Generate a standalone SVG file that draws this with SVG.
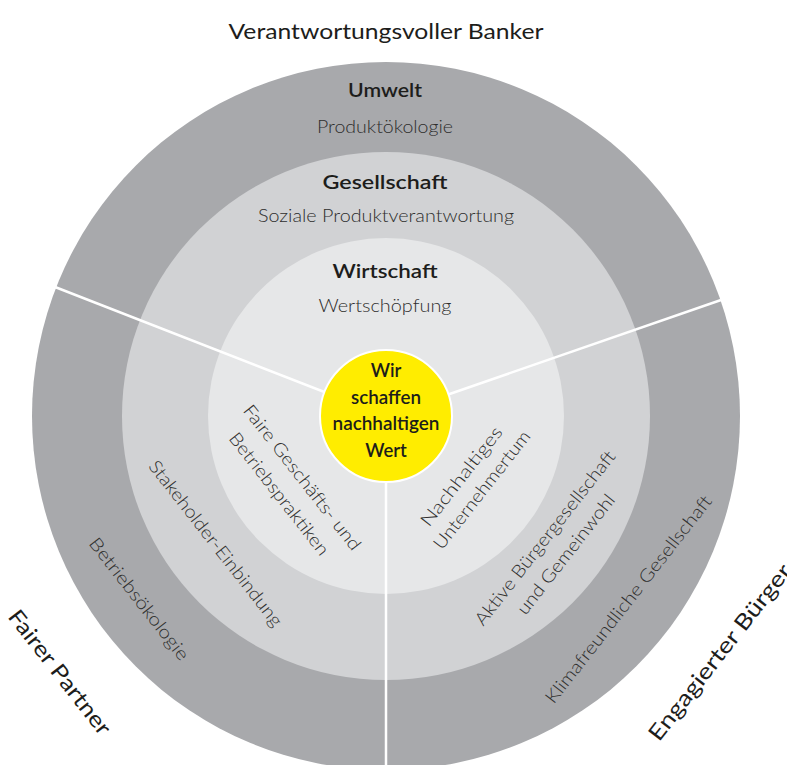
<svg xmlns="http://www.w3.org/2000/svg" width="787" height="765" viewBox="0 0 787 765">
<style>
.lt{font-family:Lato,"Liberation Sans",sans-serif;font-weight:300;fill:#2e2e2d;text-anchor:middle}
.bd{font-family:Lato,"Liberation Sans",sans-serif;font-weight:700;fill:#1d1d1b;text-anchor:middle}
.sep{stroke:#ffffff;stroke-width:2.5;fill:none}
</style>
<rect width="787" height="765" fill="#ffffff"/>
<g id="ring-umwelt">
<circle cx="386" cy="416" r="354" fill="#a8a9ac"/>
</g>
<g id="ring-gesellschaft">
<circle cx="386" cy="416" r="264" fill="#d1d2d4"/>
</g>
<g id="ring-wirtschaft">
<circle cx="386" cy="416" r="178" fill="#e6e7e8"/>
</g>
<g id="connectors">
<line class="sep" x1="386" y1="416" x2="55" y2="287"/>
<line class="sep" x1="386" y1="416" x2="721" y2="300"/>
<line class="sep" x1="386" y1="416" x2="386" y2="765"/>
</g>
<g id="center">
<circle cx="386" cy="416" r="66" fill="#ffed00" stroke="#ffffff" stroke-width="2"/>
<text class="bd" font-size="18.5" x="386" y="377" style="font-weight:600">Wir</text>
<text class="bd" font-size="18.5" x="386" y="404" textLength="70" lengthAdjust="spacingAndGlyphs" style="font-weight:600">schaffen</text>
<text class="bd" font-size="18.5" x="386" y="430" textLength="107" lengthAdjust="spacingAndGlyphs" style="font-weight:600">nachhaltigen</text>
<text class="bd" font-size="18.5" x="386" y="457" style="font-weight:600">Wert</text>
</g>
<g id="title-top">
<text class="lt" font-size="22" x="386" y="39" textLength="315" lengthAdjust="spacingAndGlyphs" style="fill:#1d1d1b;font-weight:400">Verantwortungsvoller Banker</text>
</g>
<g id="label-umwelt">
<text class="bd" font-size="19" x="385" y="97" textLength="74" lengthAdjust="spacingAndGlyphs" style="font-weight:600">Umwelt</text>
<text class="lt" font-size="18" x="385" y="133" textLength="136" lengthAdjust="spacingAndGlyphs">Produktökologie</text>
</g>
<g id="label-gesellschaft">
<text class="bd" font-size="19" x="385" y="189" textLength="125" lengthAdjust="spacingAndGlyphs" style="font-weight:600">Gesellschaft</text>
<text class="lt" font-size="18" x="386" y="222" textLength="256" lengthAdjust="spacingAndGlyphs">Soziale Produktverantwortung</text>
</g>
<g id="label-wirtschaft">
<text class="bd" font-size="19" x="385" y="278" textLength="105" lengthAdjust="spacingAndGlyphs" style="font-weight:600">Wirtschaft</text>
<text class="lt" font-size="18" x="385" y="312" textLength="133" lengthAdjust="spacingAndGlyphs">Wertschöpfung</text>
</g>
<g id="sector-fairer-partner">
<g transform="translate(302,477.5) rotate(52)"><text class="lt" font-size="18" x="0" y="6" textLength="179" lengthAdjust="spacingAndGlyphs">Faire Geschäfts- und</text></g>
<g transform="translate(279,494) rotate(52)"><text class="lt" font-size="18" x="0" y="6" textLength="150" lengthAdjust="spacingAndGlyphs">Betriebspraktiken</text></g>
<g transform="translate(215.5,543.5) rotate(52)"><text class="lt" font-size="18" x="0" y="6" textLength="205" lengthAdjust="spacingAndGlyphs">Stakeholder-Einbindung</text></g>
<g transform="translate(139,599) rotate(52)"><text class="lt" font-size="18" x="0" y="6" textLength="150" lengthAdjust="spacingAndGlyphs">Betriebsökologie</text></g>
<g transform="translate(60,672) rotate(52)"><text class="lt" font-size="22" x="0" y="8" textLength="152" lengthAdjust="spacingAndGlyphs" style="fill:#1d1d1b;font-weight:400">Fairer Partner</text></g>
</g>
<g id="sector-engagierter-buerger">
<g transform="translate(461.5,476.5) rotate(-52)"><text class="lt" font-size="18" x="0" y="6" textLength="121" lengthAdjust="spacingAndGlyphs">Nachhaltiges</text></g>
<g transform="translate(482,490) rotate(-52)"><text class="lt" font-size="18" x="0" y="6" textLength="145" lengthAdjust="spacingAndGlyphs">Unternehmertum</text></g>
<g transform="translate(545,538) rotate(-52)"><text class="lt" font-size="18" x="0" y="6" textLength="216" lengthAdjust="spacingAndGlyphs">Aktive Bürgergesellschaft</text></g>
<g transform="translate(566,554.5) rotate(-52)"><text class="lt" font-size="18" x="0" y="6" textLength="147" lengthAdjust="spacingAndGlyphs">und Gemeinwohl</text></g>
<g transform="translate(628.5,599.5) rotate(-52)"><text class="lt" font-size="18" x="0" y="6" textLength="258" lengthAdjust="spacingAndGlyphs">Klimafreundliche Gesellschaft</text></g>
<g transform="translate(719.5,652) rotate(-52)"><text class="lt" font-size="22" x="0" y="8" textLength="217" lengthAdjust="spacingAndGlyphs" style="fill:#1d1d1b;font-weight:400">Engagierter Bürger</text></g>
</g>
</svg>
